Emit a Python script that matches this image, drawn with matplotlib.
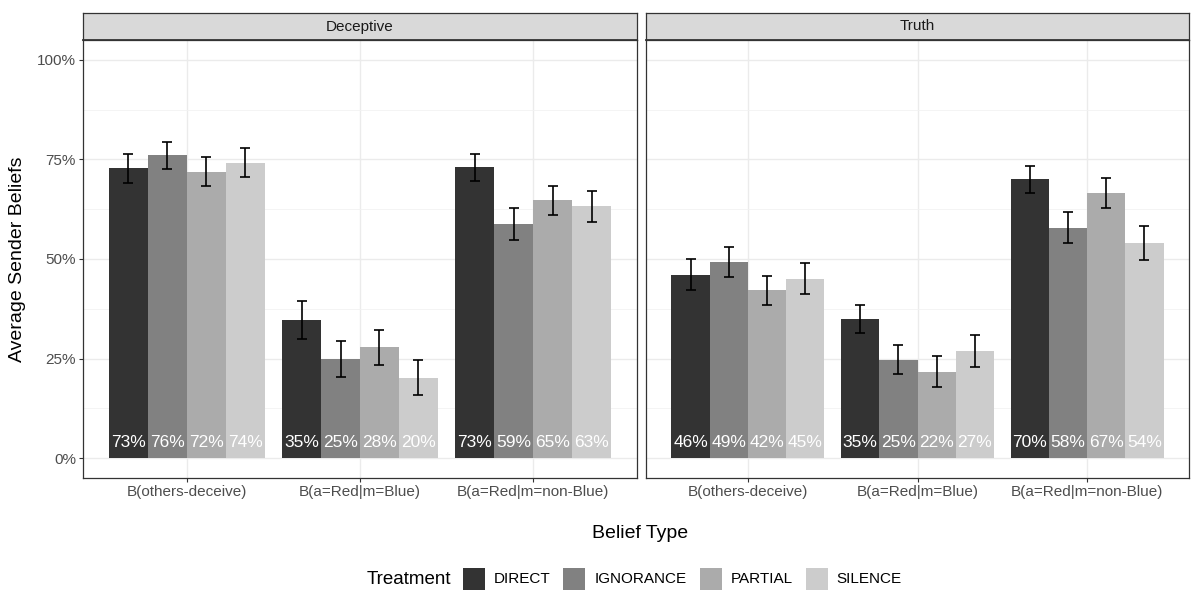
#!/usr/bin/env python3
"""Average sender beliefs by belief type and treatment, faceted by message type."""
import numpy as np
import matplotlib
matplotlib.use("Agg")
import matplotlib.pyplot as plt
from matplotlib.patches import Rectangle
from matplotlib.ticker import MultipleLocator, FuncFormatter

plt.rcParams["font.family"] = ["Liberation Sans", "DejaVu Sans"]

# data (percent)
panels = ["Deceptive", "Truth"]
belief_types = ["B(others-deceive)", "B(a=Red|m=Blue)", "B(a=Red|m=non-Blue)"]
treatments = ["DIRECT", "IGNORANCE", "PARTIAL", "SILENCE"]
fill_colors = ["#333333", "#818181", "#ABABAB", "#CCCCCC"]

# rows = belief type, columns = treatment
deceptive_mean = [
    [72.8, 76.0, 71.9, 74.2],
    [34.6, 24.8, 27.8, 20.2],
    [73.0, 58.8, 64.7, 63.2],
]
deceptive_err = [
    [3.65, 3.35, 3.6, 3.65],
    [4.8, 4.5, 4.3, 4.4],
    [3.35, 4.1, 3.65, 3.95],
]
truth_mean = [
    [46.1, 49.3, 42.1, 45.1],
    [35.0, 24.7, 21.7, 26.9],
    [70.0, 57.8, 66.6, 54.1],
]
truth_err = [
    [3.8, 3.8, 3.75, 3.9],
    [3.5, 3.6, 3.9, 4.0],
    [3.35, 3.9, 3.7, 4.3],
]

W, H = 1197, 591
fig = plt.figure(figsize=(W / 100, H / 100), dpi=100)


def fx(px):
    return px / W


def fy(py):
    return 1 - py / H


panel_x = [(83, 637), (646, 1189)]
top_px, bot_px, strip_top = 40, 478, 13
bar_w = 0.225
means = [deceptive_mean, truth_mean]
errs = [deceptive_err, truth_err]

for p, name in enumerate(panels):
    x0, x1 = panel_x[p]
    ax = fig.add_axes([fx(x0), fy(bot_px), fx(x1 - x0), (bot_px - top_px) / H])
    m = np.array(means[p])
    e = np.array(errs[p])
    centers = np.arange(1, len(belief_types) + 1)
    for j, t in enumerate(treatments):
        xs = centers + (j - 1.5) * bar_w
        ax.bar(xs, m[:, j], width=bar_w, color=fill_colors[j], zorder=2)
        ax.errorbar(xs, m[:, j], yerr=e[:, j], fmt="none", ecolor="black",
                    elinewidth=1.2, capsize=3.6, capthick=1.2, zorder=3)
        for xi, v in zip(xs, m[:, j]):
            ax.text(xi, 4.0, f"{v:.0f}%", color="white", ha="center",
                    va="center", fontsize=12.5, zorder=4)
    ax.set_xlim(0.4, 3.6)
    ax.set_ylim(-5, 105)
    ax.set_xticks(centers)
    ax.set_xticklabels(belief_types)
    ax.yaxis.set_major_locator(MultipleLocator(25))
    ax.yaxis.set_minor_locator(MultipleLocator(12.5))
    ax.yaxis.set_major_formatter(FuncFormatter(lambda v, pos: f"{v:.0f}%"))
    ax.grid(which="major", color="#EBEBEB", linewidth=1.0, zorder=0)
    ax.grid(which="minor", axis="y", color="#F2F2F2", linewidth=0.6, zorder=0)
    ax.set_axisbelow(True)
    ax.tick_params(which="major", length=3, width=0.8, color="#333333",
                   labelcolor="#4D4D4D", labelsize=11, pad=2)
    ax.tick_params(which="minor", length=0)
    if p > 0:
        ax.tick_params(axis="y", left=False, labelleft=False)
    for s in ax.spines.values():
        s.set_color("#333333")
        s.set_linewidth(0.9)

    # facet strip
    sax = fig.add_axes([fx(x0), fy(top_px), fx(x1 - x0), (top_px - strip_top) / H])
    sax.set_facecolor("#D9D9D9")
    sax.set_xticks([])
    sax.set_yticks([])
    for s in sax.spines.values():
        s.set_color("#333333")
        s.set_linewidth(0.9)
    sax.spines["bottom"].set_linewidth(1.3)
    sax.text(0.5, 0.5, name, transform=sax.transAxes, ha="center",
             va="center", fontsize=11, color="#1A1A1A")

fig.text(fx(18), fy((top_px + bot_px) / 2), "Average Sender Beliefs",
         rotation=90, ha="center", va="center", fontsize=14)
fig.text(fx(640), fy(534), "Belief Type", ha="center", va="center", fontsize=14)

# legend laid out by hand: title on the left, keys in one row
renderer = fig.canvas.get_renderer()
leg_y = 579
title = fig.text(0, fy(leg_y), "Treatment", ha="left", va="center", fontsize=13.5)
w_title = title.get_window_extent(renderer).width
labels = []
for t in treatments:
    lt = fig.text(0, fy(leg_y), t, ha="left", va="center", fontsize=11)
    labels.append((lt, lt.get_window_extent(renderer).width))
key, gap_k, gap_t, gap_title = 22, 9, 13, 12
total = w_title + gap_title + sum(key + gap_k + w for _, w in labels) + gap_t * (len(labels) - 1)
x = 634 - total / 2
title.set_x(fx(x))
x += w_title + gap_title
for j, (lt, w) in enumerate(labels):
    fig.patches.append(Rectangle((fx(x), fy(leg_y + key / 2)), fx(key), key / H,
                                 transform=fig.transFigure, facecolor=fill_colors[j],
                                 edgecolor="none"))
    x += key + gap_k
    lt.set_x(fx(x))
    x += w + gap_t

fig.savefig("out.png", dpi=100)
